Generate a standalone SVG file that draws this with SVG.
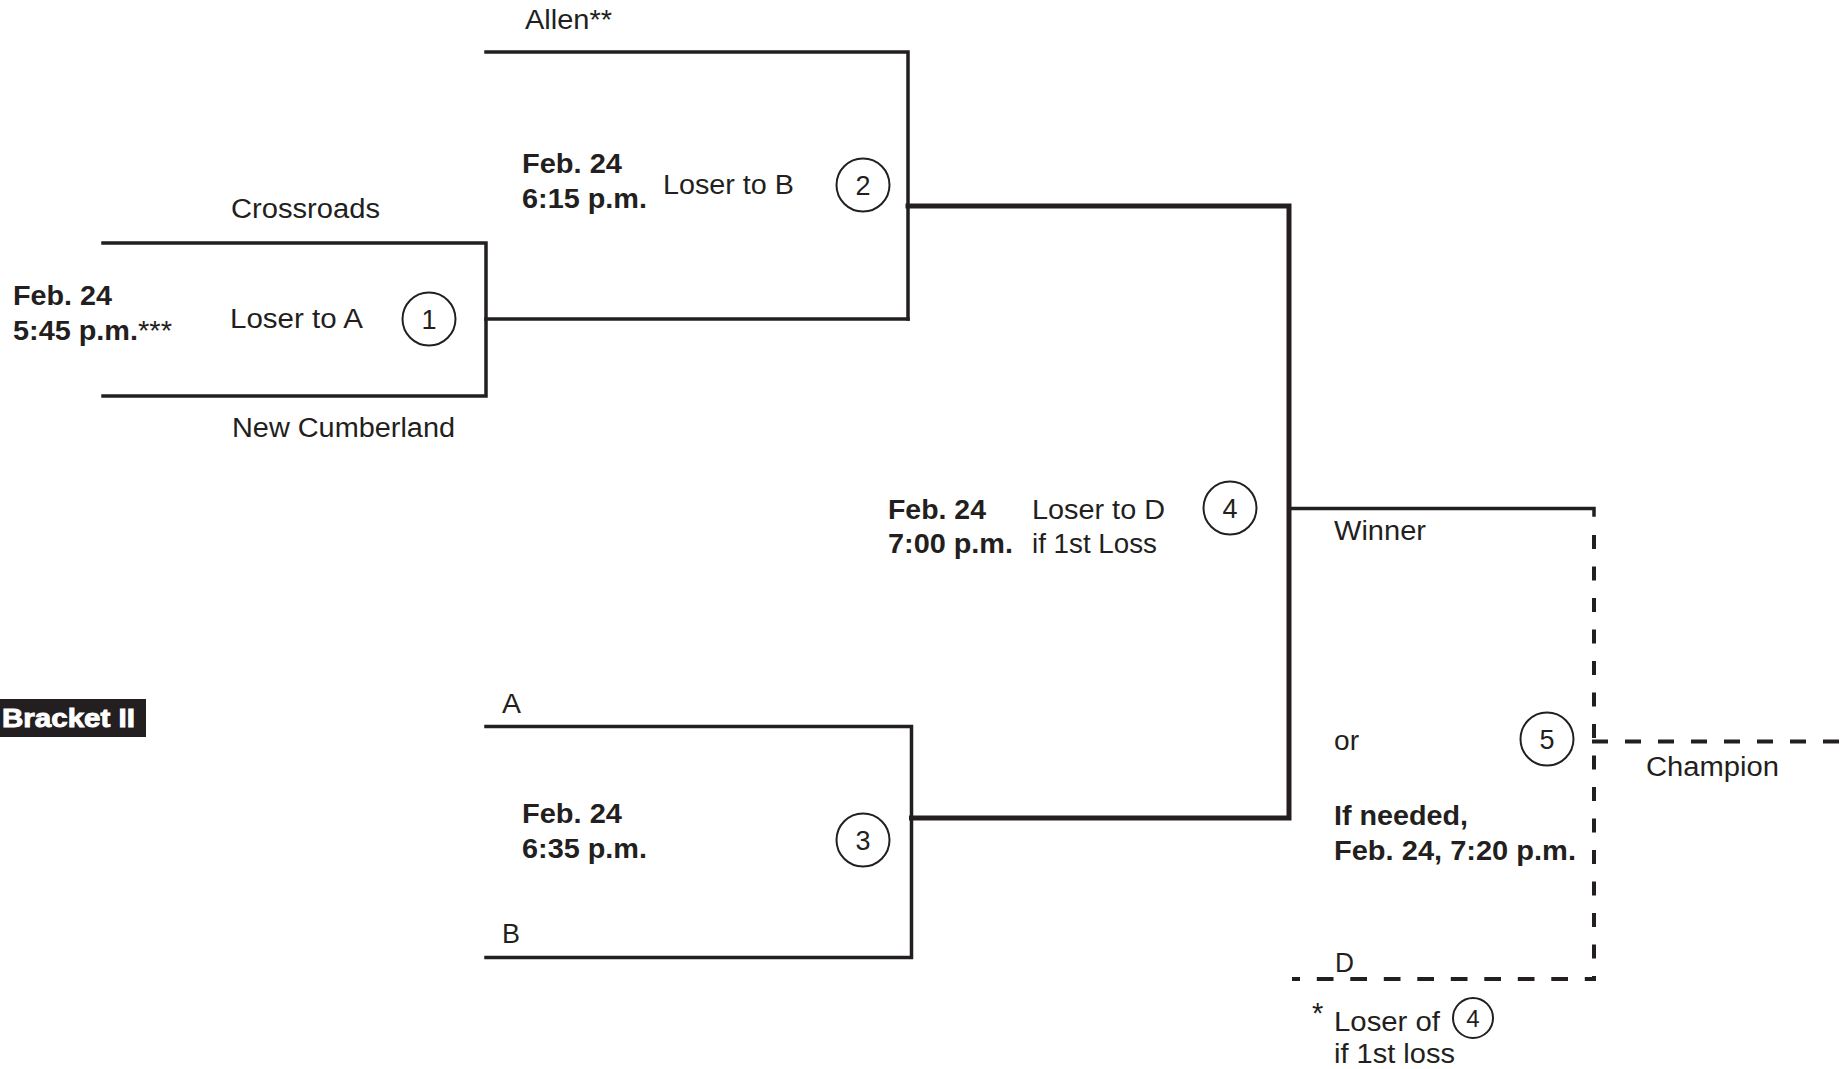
<svg xmlns="http://www.w3.org/2000/svg" width="1841" height="1069" viewBox="0 0 1841 1069">
<style>
.t{font-family:"Liberation Sans",Arial,sans-serif;font-size:27px;fill:#231f20}
.b{font-weight:bold;font-size:27.5px}
.ln{fill:none;stroke:#231f20;stroke-width:3.5;stroke-linecap:square}
.tk{fill:none;stroke:#231f20;stroke-width:5;stroke-linecap:square}
.ds{fill:none;stroke:#231f20;stroke-width:4}
.c{fill:none;stroke:#231f20;stroke-width:2}
.n{text-anchor:middle}
</style>
<rect width="1841" height="1069" fill="#ffffff"/>
<g id="connectors">
<path class="ln" d="M103,243 H486 V396 H103"/>
<path class="ln" d="M486,319 H908"/>
<path class="ln" d="M486,52 H908 V319"/>
<path class="ln" d="M486,726.5 H911.5 V957.5 H486"/>
<path class="tk" d="M908,206 H1289 V818 H911.5"/>
<path class="ln" d="M1289,508.5 H1594 V515"/>
<path class="ds" d="M1594,535 V981" stroke-dasharray="14 17.5"/>
<path class="ds" d="M1292,979 H1596" stroke-dasharray="16.7 16.8" stroke-dashoffset="8.7"/>
<path class="ds" d="M1592,741.5 H1841" stroke-dasharray="16 17"/>
</g>
<g id="bracket-label">
<rect x="0" y="699" width="146" height="38" fill="#231f20"/>
<text x="2" y="727" class="t b" style="fill:#fff;stroke:#fff;stroke-width:0.9;font-size:25px" textLength="133" lengthAdjust="spacingAndGlyphs">Bracket II</text>
</g>
<g id="game1">
<text x="231" y="218" class="t" textLength="149" lengthAdjust="spacingAndGlyphs">Crossroads</text>
<text x="13" y="305" class="t b" textLength="99" lengthAdjust="spacingAndGlyphs">Feb. 24</text>
<text x="13" y="340" class="t b" textLength="125" lengthAdjust="spacingAndGlyphs">5:45 p.m.</text>
<text x="138" y="340" class="t" textLength="34" lengthAdjust="spacingAndGlyphs">***</text>
<text x="230" y="328" class="t" textLength="133" lengthAdjust="spacingAndGlyphs">Loser to A</text>
<circle class="c" cx="429" cy="319" r="26.5"/>
<text x="429" y="329" class="t n">1</text>
<text x="232" y="437" class="t" textLength="223" lengthAdjust="spacingAndGlyphs">New Cumberland</text>
</g>
<g id="game2">
<text x="525" y="29" class="t" textLength="87" lengthAdjust="spacingAndGlyphs">Allen**</text>
<text x="522" y="173" class="t b" textLength="100" lengthAdjust="spacingAndGlyphs">Feb. 24</text>
<text x="522" y="208" class="t b" textLength="125" lengthAdjust="spacingAndGlyphs">6:15 p.m.</text>
<text x="663" y="194" class="t" textLength="131" lengthAdjust="spacingAndGlyphs">Loser to B</text>
<circle class="c" cx="863" cy="185" r="26.5"/>
<text x="863" y="195" class="t n">2</text>
</g>
<g id="game3">
<text x="502" y="713" class="t" textLength="19" lengthAdjust="spacingAndGlyphs">A</text>
<text x="522" y="823" class="t b" textLength="100" lengthAdjust="spacingAndGlyphs">Feb. 24</text>
<text x="522" y="858" class="t b" textLength="125" lengthAdjust="spacingAndGlyphs">6:35 p.m.</text>
<circle class="c" cx="863" cy="840" r="26.5"/>
<text x="863" y="850" class="t n">3</text>
<text x="502" y="943" class="t" textLength="18" lengthAdjust="spacingAndGlyphs">B</text>
</g>
<g id="game4">
<text x="888" y="519" class="t b" textLength="98" lengthAdjust="spacingAndGlyphs">Feb. 24</text>
<text x="888" y="553" class="t b" textLength="125" lengthAdjust="spacingAndGlyphs">7:00 p.m.</text>
<text x="1032" y="519" class="t" textLength="133" lengthAdjust="spacingAndGlyphs">Loser to D</text>
<text x="1032" y="553" class="t" textLength="125" lengthAdjust="spacingAndGlyphs">if 1st Loss</text>
<circle class="c" cx="1230" cy="508" r="26.5"/>
<text x="1230" y="518" class="t n">4</text>
</g>
<g id="game5">
<text x="1334" y="540" class="t" textLength="92" lengthAdjust="spacingAndGlyphs">Winner</text>
<text x="1334" y="750" class="t" textLength="25" lengthAdjust="spacingAndGlyphs">or</text>
<circle class="c" cx="1547" cy="739" r="26.5"/>
<text x="1547" y="749" class="t n">5</text>
<text x="1334" y="825" class="t b" textLength="134" lengthAdjust="spacingAndGlyphs">If needed,</text>
<text x="1334" y="860" class="t b" textLength="242" lengthAdjust="spacingAndGlyphs">Feb. 24, 7:20 p.m.</text>
<text x="1335" y="972" class="t" textLength="19" lengthAdjust="spacingAndGlyphs">D</text>
<text x="1312" y="1023" class="t" style="font-size:29px">*</text>
<text x="1334" y="1031" class="t" textLength="106" lengthAdjust="spacingAndGlyphs">Loser of</text>
<circle class="c" cx="1473" cy="1018" r="20"/>
<text x="1473" y="1027" class="t n" style="font-size:24px">4</text>
<text x="1334" y="1063" class="t" textLength="121" lengthAdjust="spacingAndGlyphs">if 1st loss</text>
</g>
<g id="champion">
<text x="1646" y="776" class="t" textLength="133" lengthAdjust="spacingAndGlyphs">Champion</text>
</g>
</svg>
